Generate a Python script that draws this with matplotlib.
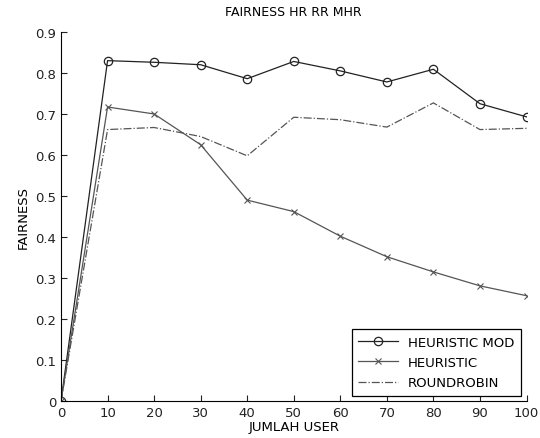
import numpy as np
import matplotlib
matplotlib.use('Agg')
import matplotlib.pyplot as plt

users = [0, 10, 20, 30, 40, 50, 60, 70, 80, 90, 100]
heuristic_mod = [0, 0.830, 0.826, 0.820, 0.786, 0.828, 0.805, 0.778, 0.809, 0.725, 0.693]
heuristic = [0, 0.717, 0.700, 0.625, 0.490, 0.462, 0.402, 0.352, 0.315, 0.281, 0.257]
roundrobin = [0, 0.662, 0.667, 0.645, 0.598, 0.692, 0.686, 0.668, 0.727, 0.662, 0.665]

fig = plt.figure(figsize=(5.4, 4.39), dpi=100)
ax = fig.add_axes([0.113, 0.084, 0.862, 0.841])

ax.plot(users, heuristic_mod, color="#222222", linewidth=0.9, marker="o",
        markersize=6, markerfacecolor="none", markeredgewidth=0.9, label="HEURISTIC MOD")
ax.plot(users, heuristic, color="#555555", linewidth=0.9, marker="x",
        markersize=4, markeredgewidth=0.8, label="HEURISTIC")
ax.plot(users, roundrobin, color="#555555", linewidth=0.9, linestyle="-.",
        label="ROUNDROBIN")

ax.set_xlim(0, 100)
ax.set_ylim(0, 0.9)
ax.set_xticks(np.arange(0, 101, 10))
ax.set_yticks(np.arange(0, 0.91, 0.1))
ax.set_yticklabels(["0", "0.1", "0.2", "0.3", "0.4", "0.5", "0.6", "0.7", "0.8", "0.9"])
ax.spines["top"].set_visible(False)
ax.spines["right"].set_visible(False)
ax.tick_params(direction="in", length=4, labelsize=9.5, colors="#222222")
ax.set_xlabel("JUMLAH USER", fontsize=9.5, labelpad=1)
ax.set_ylabel("FAIRNESS", fontsize=9.5)
ax.set_title("FAIRNESS HR RR MHR", fontsize=9, pad=12)

leg = ax.legend(loc="lower right", fontsize=9.5, fancybox=False, edgecolor="black",
                framealpha=1, handlelength=3, numpoints=1, borderaxespad=0.4,
                labelspacing=0.55, borderpad=0.5)
leg.get_frame().set_linewidth(0.9)

fig.savefig("out.png", dpi=100)
